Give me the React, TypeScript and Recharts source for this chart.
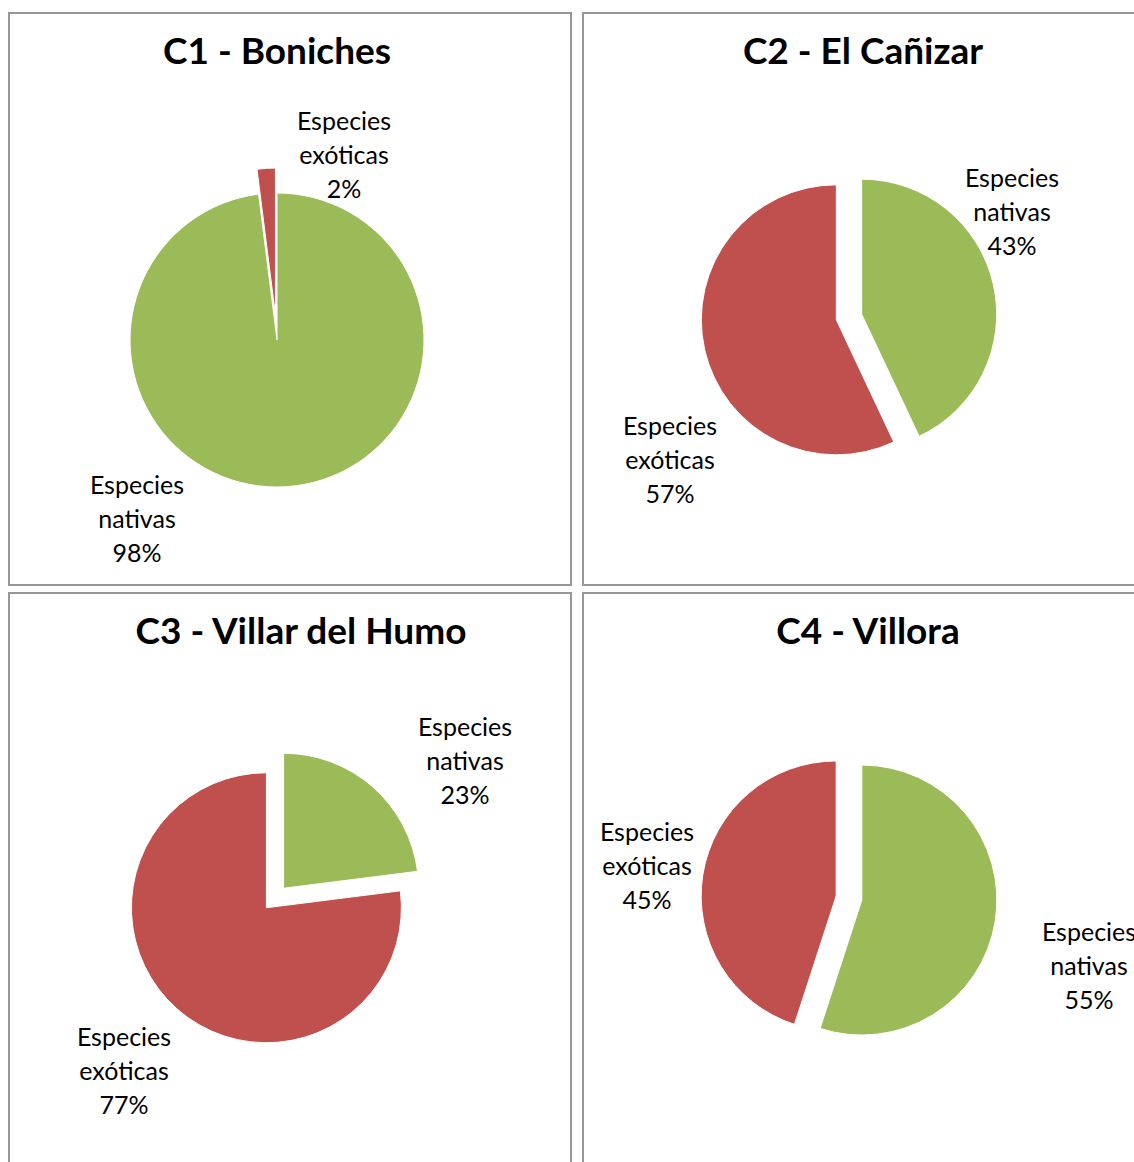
import { PieChart, Pie, Cell, Sector } from "recharts"

const categories = ["Especies nativas", "Especies exóticas"]
const titles = ["C1 - Boniches", "C2 - El Cañizar", "C3 - Villar del Humo", "C4 - Villora"]
const c1Values = [98, 2]
const c2Values = [43, 57]
const c3Values = [23, 77]
const c4Values = [55, 45]

const COLORS = ["#9BBB59", "#C0504D"]
const FONT = "Lato, 'Open Sans', sans-serif"
const RAD = Math.PI / 180

// panel placement, pie size, explosion per slice and label offsets (from pie centre)
const panels = [
  { left: 8, top: 12, values: c1Values, cx: 262, cy: 321, r: 147, explode: [0, 25], labels: [[-140, 188], [67, -176]], titleX: 267 },
  { left: 582, top: 12, values: c2Values, cx: 260, cy: 298, r: 135, explode: [13, 13], labels: [[163, -96], [-179, 152]], titleX: 279 },
  { left: 8, top: 592, values: c3Values, cx: 260, cy: 299, r: 135, explode: [13, 13], labels: [[190, -128], [-151, 182]], titleX: 291 },
  { left: 582, top: 592, values: c4Values, cx: 260, cy: 299, r: 135, explode: [13, 13], labels: [[240, 77], [-202, -23]], titleX: 284 },
]

const Panel = ({ p, title }: { p: (typeof panels)[number]; title: string }) => {
  const data = categories.map((name, i) => ({ name, value: p.values[i] }))

  const renderShape = (props: any) => {
    const idx = categories.indexOf(props.name)
    const off = p.explode[idx] || 0
    const dx = off * Math.cos(-props.midAngle * RAD)
    const dy = off * Math.sin(-props.midAngle * RAD)
    return <Sector {...props} cx={props.cx + dx} cy={props.cy + dy} />
  }

  const renderLabel = (props: any) => {
    const [lx, ly] = p.labels[props.index]
    const x = props.cx + lx
    const y = props.cy + ly
    const words = categories[props.index].split(" ")
    const lines = [words[0], words[1], `${Math.round(props.percent * 100)}%`]
    return (
      <text x={x} textAnchor="middle" fill="#000" fontSize={25} fontFamily={FONT}>
        {lines.map((t, i) => (
          <tspan key={i} x={x} y={y + (i - 1) * 34}>
            {t}
          </tspan>
        ))}
      </text>
    )
  }

  return (
    <div
      style={{
        position: "absolute",
        left: p.left,
        top: p.top,
        width: 564,
        height: 574,
        boxSizing: "border-box",
        border: "2px solid #979797",
        background: "#fff",
      }}
    >
      <PieChart width={560} height={570}>
        <text x={p.titleX} y={50} textAnchor="middle" fontSize={37} fontWeight={700} fontFamily={FONT} fill="#000">
          {title}
        </text>
        <Pie
          data={data}
          dataKey="value"
          nameKey="name"
          cx={p.cx}
          cy={p.cy}
          outerRadius={p.r}
          startAngle={90}
          endAngle={-270}
          stroke="#fff"
          strokeWidth={1}
          shape={renderShape}
          label={renderLabel}
          labelLine={false}
          isAnimationActive={false}
        >
          {data.map((d, i) => (
            <Cell key={d.name} fill={COLORS[i]} />
          ))}
        </Pie>
      </PieChart>
    </div>
  )
}

export default function App() {
  return (
    <div
      style={{
        position: "absolute",
        left: 0,
        top: 0,
        width: 1134,
        height: 1162,
        overflow: "hidden",
        background: "#fff",
      }}
    >
      {panels.map((p, i) => (
        <Panel key={i} p={p} title={titles[i]} />
      ))}
    </div>
  )
}
